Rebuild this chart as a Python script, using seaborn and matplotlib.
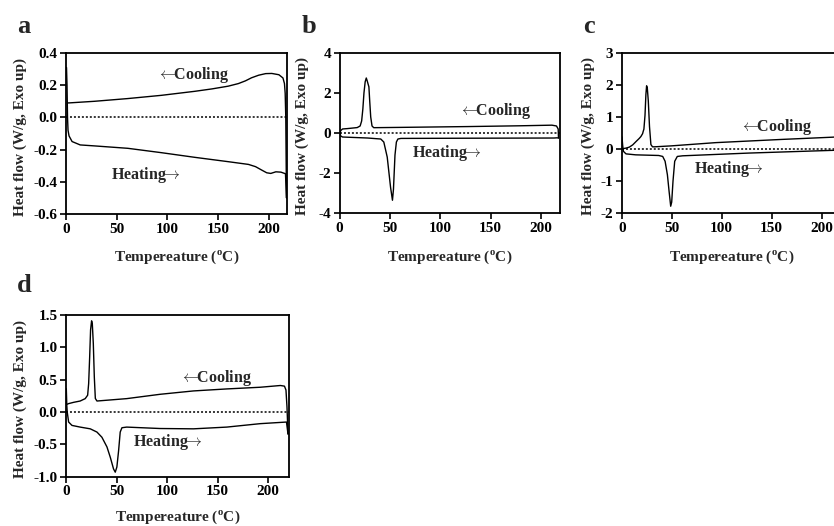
import matplotlib
matplotlib.use("Agg")
import matplotlib.pyplot as plt
import seaborn as sns
import pandas as pd

# ---- DSC traces: temperature (°C) and heat flow (W/g), exo up ----
# panel a
a_cool_T = [217.5, 217.2, 216.8, 216.2, 215.5, 214.0, 210.0, 203.0, 197.0, 190.0, 183.0,
            177.0, 170.0, 160.0, 144.0, 127.0, 94.0, 61.0, 28.0, 3.0, 1.5]
a_cool_hf = [-0.50, -0.30, 0.0, 0.15, 0.21, 0.245, 0.265, 0.273, 0.272, 0.262, 0.246,
             0.227, 0.21, 0.194, 0.177, 0.162, 0.137, 0.117, 0.10, 0.09, 0.09]
a_heat_T = [0.5, 1.0, 1.5, 2.0, 3.0, 6.0, 14.0, 28.0, 61.0, 94.0, 127.0, 160.0, 180.0,
            187.0, 193.0, 198.0, 202.0, 207.0, 212.0, 216.5, 217.5]
a_heat_hf = [0.31, 0.20, 0.0, -0.08, -0.115, -0.15, -0.171, -0.177, -0.192, -0.219, -0.248,
             -0.275, -0.292, -0.306, -0.327, -0.344, -0.348, -0.338, -0.340, -0.350, -0.50]

# panel b
b_cool_T = [217.5, 217.2, 215.5, 211.0, 180.0, 127.0, 61.0, 34.0, 32.3, 31.0, 30.0, 29.2,
            28.5, 27.5, 26.6, 25.5, 24.3, 23.2, 22.0, 20.5, 17.6, 8.0, 3.0, 1.2, 0.5]
b_cool_hf = [-0.25, 0.20, 0.35, 0.39, 0.36, 0.32, 0.28, 0.265, 0.35, 0.80, 1.60, 2.30,
             2.42, 2.60, 2.74, 2.55, 2.00, 1.20, 0.60, 0.35, 0.27, 0.22, 0.20, 0.12, 0.0]
b_heat_T = [0.5, 1.2, 3.0, 8.0, 28.0, 41.0, 44.0, 47.4, 50.7, 52.6, 53.6, 55.1, 56.5,
            58.0, 61.0, 127.0, 213.0, 216.0, 217.5]
b_heat_hf = [0.0, -0.15, -0.20, -0.21, -0.25, -0.30, -0.45, -1.20, -2.70, -3.35, -2.80,
             -1.10, -0.45, -0.30, -0.27, -0.26, -0.25, -0.24, -0.25]

# panel c
c_cool_T = [220.0, 211.0, 160.0, 94.0, 50.0, 33.0, 30.8, 29.2, 27.8, 26.6, 25.6, 24.9,
            24.2, 23.3, 22.2, 21.5, 20.9, 19.2, 17.5, 14.2, 11.0, 7.6, 4.3, 1.0]
c_cool_hf = [0.39, 0.37, 0.30, 0.20, 0.10, 0.07, 0.07, 0.14, 0.70, 1.50, 1.90, 1.97,
             1.70, 1.05, 0.62, 0.55, 0.48, 0.39, 0.33, 0.23, 0.13, 0.06, 0.03, 0.01]
c_heat_T = [0.3, 1.0, 1.7, 4.3, 14.0, 37.0, 41.0, 43.4, 45.7, 47.4, 49.0, 50.0, 51.3,
            53.0, 55.6, 61.0, 127.0, 211.0, 220.0]
c_heat_hf = [0.38, 0.10, -0.07, -0.15, -0.18, -0.20, -0.23, -0.38, -0.80, -1.32, -1.78,
             -1.65, -1.00, -0.38, -0.23, -0.21, -0.125, -0.04, -0.03]

# panel d
d_cool_T = [219.5, 219.0, 218.5, 217.5, 216.0, 212.0, 192.0, 159.0, 126.0, 93.0, 60.0,
            30.6, 29.0, 28.0, 27.0, 26.0, 25.3, 24.3, 23.4, 22.4, 21.4, 19.0, 14.0, 7.6,
            2.6, 1.0]
d_cool_hf = [-0.34, -0.13, 0.08, 0.34, 0.40, 0.41, 0.383, 0.357, 0.326, 0.274, 0.207,
             0.17, 0.21, 0.54, 1.06, 1.37, 1.41, 1.27, 0.85, 0.44, 0.26, 0.207, 0.17, 0.15,
             0.13, 0.12]
d_heat_T = [0.3, 0.8, 1.2, 2.6, 5.9, 14.0, 24.0, 30.6, 35.5, 40.5, 43.8, 47.0, 48.7, 50.3,
            52.0, 53.6, 55.3, 60.0, 93.0, 126.0, 159.0, 192.0, 218.0, 219.5]
d_heat_hf = [0.36, 0.10, 0.0, -0.155, -0.207, -0.233, -0.26, -0.31, -0.39, -0.54, -0.70,
             -0.88, -0.93, -0.85, -0.60, -0.31, -0.243, -0.233, -0.255, -0.26, -0.233, -0.18,
             -0.155, -0.34]

x_ticks = [0, 50, 100, 150, 200]
a_yticks = [-0.6, -0.4, -0.2, 0.0, 0.2, 0.4]
b_yticks = [-4, -2, 0, 2, 4]
c_yticks = [-2, -1, 0, 1, 2, 3]
d_yticks = [-1.0, -0.5, 0.0, 0.5, 1.0, 1.5]

# layout: axes boxes in pixels (left, top, right, bottom), label offsets in pixels,
# annotation anchors in data units (left edge, baseline)
panels = {
    "a": dict(cool=(a_cool_T, a_cool_hf), heat=(a_heat_T, a_heat_hf), yticks=a_yticks,
              fmt="{:.1f}", xmax=218, box=(66, 53, 287, 214), ylab_dx=-46, xlab_dy=47,
              cool_txt=(89.5, 0.237), heat_txt=(44.1, -0.383)),
    "b": dict(cool=(b_cool_T, b_cool_hf), heat=(b_heat_T, b_heat_hf), yticks=b_yticks,
              fmt="{:.0f}", xmax=219, box=(339.5, 52.7, 560, 213.3), ylab_dx=-37, xlab_dy=47,
              cool_txt=(119, 0.92), heat_txt=(71.7, -1.21)),
    "c": dict(cool=(c_cool_T, c_cool_hf), heat=(c_heat_T, c_heat_hf), yticks=c_yticks,
              fmt="{:.0f}", xmax=220, box=(621.7, 52.7, 841.7, 213.3), ylab_dx=-33, xlab_dy=47,
              cool_txt=(118.3, 0.556), heat_txt=(72.3, -0.74)),
    "d": dict(cool=(d_cool_T, d_cool_hf), heat=(d_heat_T, d_heat_hf), yticks=d_yticks,
              fmt="{:.1f}", xmax=220, box=(66, 315, 288.5, 476.7), ylab_dx=-46, xlab_dy=44.5,
              cool_txt=(112.8, 0.467), heat_txt=(66.6, -0.528)),
}
letter_pos = {"a": (17, 33), "b": (302, 33), "c": (583, 33), "d": (17, 292)}

W, H = 834, 526
sns.set_theme(style="ticks")
plt.rcParams["font.family"] = ["Liberation Serif", "DejaVu Serif"]
plt.rcParams["font.weight"] = "bold"
plt.rcParams["axes.unicode_minus"] = False
plt.rcParams["mathtext.fontset"] = "custom"
plt.rcParams["mathtext.rm"] = "Liberation Serif:bold"
plt.rcParams["mathtext.bf"] = "Liberation Serif:bold"

fig = plt.figure(figsize=(W / 100, H / 100), dpi=100)
fs = 11
fs_note = 11.5

for key, p in panels.items():
    l, t, r, b = p["box"]
    ax = fig.add_axes([l / W, (H - b) / H, (r - l) / W, (b - t) / H])
    yt = p["yticks"]
    for seg in ("cool", "heat"):
        T, hf = p[seg]
        df = pd.DataFrame({"T": T, "hf": hf})
        sns.lineplot(data=df, x="T", y="hf", sort=False, estimator=None, ax=ax,
                     color="black", linewidth=1.0)
    ax.axhline(0, color="black", linestyle=(0, (1.3, 1.3)), linewidth=1.1)
    ax.set_xlim(0, p["xmax"])
    ax.set_ylim(yt[0], yt[-1])
    ax.set_xticks(x_ticks)
    ax.set_xticklabels([str(v) for v in x_ticks])
    ax.set_yticks(yt)
    ax.set_yticklabels([p["fmt"].format(v) for v in yt])
    ax.tick_params(direction="out", length=4.2, width=1.2, color="black",
                   labelsize=fs, pad=2.0, labelcolor="black")
    for s in ax.spines.values():
        s.set_visible(True)
        s.set_color("black")
        s.set_linewidth(1.3)
    ax.set_xlabel(r"Tempereature ($^{\mathbf{o}}$C)", fontsize=fs, fontweight="bold")
    ax.set_ylabel("Heat flow (W/g, Exo up)", fontsize=fs, fontweight="bold")
    wpx, hpx = r - l, b - t
    ax.xaxis.set_label_coords(0.5, -p["xlab_dy"] / hpx)
    ax.xaxis.label.set_va("baseline")
    ax.yaxis.set_label_coords(p["ylab_dx"] / wpx, 0.48)
    ax.yaxis.label.set_va("center")
    ax.text(*p["cool_txt"], r"$\leftarrow\!\!$Cooling", fontsize=fs_note, fontweight="bold",
            ha="left", va="baseline", math_fontfamily="cm")
    ax.text(*p["heat_txt"], r"Heating$\!\!\rightarrow$", fontsize=fs_note, fontweight="bold",
            ha="left", va="baseline", math_fontfamily="cm")
    lx, ly = letter_pos[key]
    fig.text(lx / W, (H - ly) / H, key, fontsize=19, fontweight="bold",
             ha="left", va="baseline")

fig.savefig("out.png", dpi=100)
